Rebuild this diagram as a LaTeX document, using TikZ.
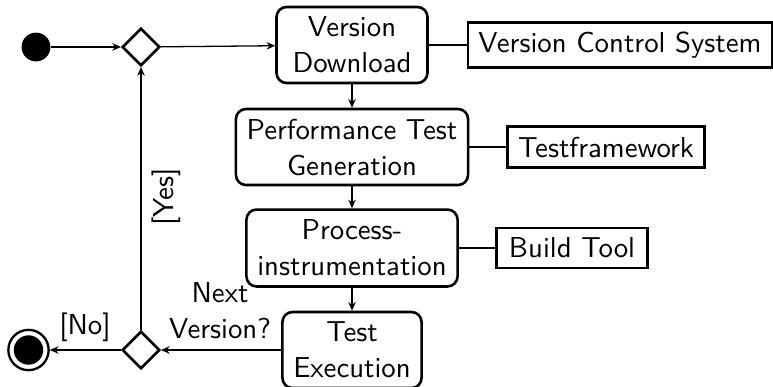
\documentclass[tikz,border=0pt]{standalone}
\usetikzlibrary{shapes.geometric,arrows.meta}
\begin{document}
\begin{tikzpicture}[x=0.3472pt,y=-0.3472pt,
  font=\sffamily\fontsize{10}{12.5}\selectfont,
  activity/.style={draw,line width=0.9pt,rounded corners=3.5pt,align=center,inner sep=0pt,minimum height=26.4pt},
  tool/.style={draw,line width=0.9pt,align=center,inner sep=0pt},
  decision/.style={draw,diamond,line width=0.9pt,minimum size=13pt,inner sep=0pt},
  flow/.style={-{Stealth[length=3pt,width=2.6pt]},line width=0.45pt},
  assoc/.style={line width=0.45pt},
  guard/.style={inner sep=0pt,align=center}]
\useasboundingbox (0,0) rectangle (773,386);

% initial and final states
\node[circle,fill=black,minimum size=10pt,inner sep=0pt] (start) at (36,47) {};
\node[circle,draw,line width=0.8pt,minimum size=14pt,inner sep=0pt,
  path picture={\fill (path picture bounding box.center) circle (5.1pt);}] (stop) at (28.5,350) {};

% decisions
\node[decision] (merge) at (141,47) {};
\node[decision] (check) at (141,350) {};

% activities
\node[activity,minimum width=52.4pt] (download) at (352,45) {Version\\Download};
\node[activity,minimum width=80.6pt] (generate) at (352,147) {Performance Test\\Generation};
\node[activity,minimum width=73.3pt,minimum height=26.7pt] (instrument) at (352,248) {Process-\\instrumentation};
\node[activity,minimum width=48.3pt] (execute) at (352,350) {Test\\Execution};

% tools
\node[tool,minimum width=105.6pt,minimum height=15.6pt] (vcs) at (620,45) {Version Control System};
\node[tool,minimum width=68.4pt,minimum height=14.2pt] (tf) at (606,147) {Testframework};
\node[tool,minimum width=52.4pt,minimum height=13.9pt] (bt) at (572,248) {Build Tool};

% control flow
\draw[flow] (start) -- (merge);
\draw[flow] (merge) -- (download);
\draw[flow] (download) -- (generate);
\draw[flow] (generate) -- (instrument);
\draw[flow] (instrument) -- (execute);
\draw[flow] (execute) -- (check);
\draw[flow] (check) -- (stop);
\draw[flow] (check) -- (merge);

% tool associations
\draw[assoc] (download) -- (vcs);
\draw[assoc] (generate) -- (tf);
\draw[assoc] (instrument) -- (bt);

% guards
\node[guard] (q) at (220,311) {Next\\Version?};
\node[guard] (no) at (85,327) {[No]};
\node[guard,rotate=90] (yes) at (166,197) {[Yes]};
\end{tikzpicture}
\end{document}
